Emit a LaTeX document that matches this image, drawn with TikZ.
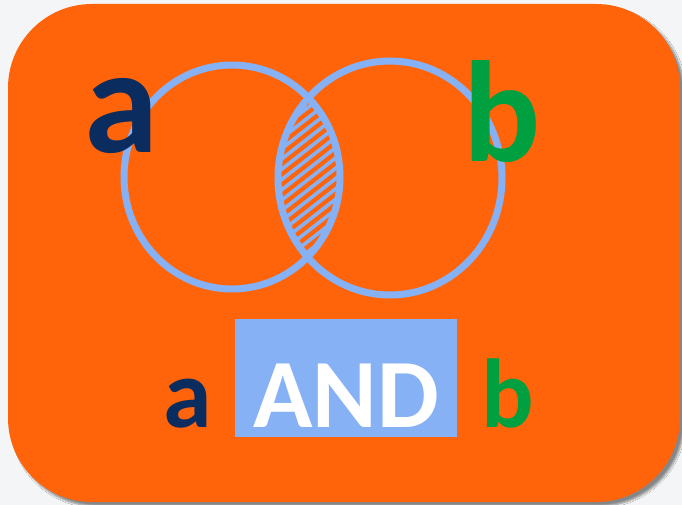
\documentclass[tikz,border=0pt]{standalone}
\usepackage{fontspec}
\setmainfont{Carlito}
\usetikzlibrary{shadows.blur}
\definecolor{bg}{HTML}{F3F5F7}
\definecolor{orng}{HTML}{FF640A}
\definecolor{lblue}{HTML}{86B2F5}
\definecolor{navy}{HTML}{0B2C5F}
\definecolor{grn}{HTML}{00A040}
\begin{document}
\begin{tikzpicture}[x=1pt,y=-1pt,
  ring/.style={draw=lblue, line width=7pt},
  hatchline/.style={lblue, line width=3.6pt},
  bigletter/.style={font=\fontsize{150}{150}\selectfont\bfseries, inner sep=0pt, anchor=base},
  smallletter/.style={font=\fontsize{98}{98}\selectfont\bfseries, inner sep=0pt, anchor=base}]
\fill[bg] (0,0) rectangle (682,505);
\useasboundingbox (0,0) rectangle (682,505);
\fill[orng, rounded corners=84pt,
  blur shadow={shadow xshift=4pt, shadow yshift=-4pt, shadow blur steps=6, shadow opacity=45}]
  (8,4) rectangle (680,502);
% hatched intersection
\begin{scope}
  \clip (232,177) ellipse [x radius=108pt, y radius=112pt];
  \clip (390,178) ellipse [x radius=112pt, y radius=117pt];
  \foreach \k in {-22,...,22}
    \draw[hatchline] (150,{178+10.3*\k+125}) -- (470,{178+10.3*\k-125});
\end{scope}
\draw[ring] (232,177) ellipse [x radius=108pt, y radius=112pt];
\draw[ring] (390,178) ellipse [x radius=112pt, y radius=117pt];
% labels
\node[bigletter, text=navy] (A) at (122,153) {a};
\node[bigletter, text=grn, font=\fontsize{144}{144}\selectfont\bfseries] (B) at (502,162) {b};
\node[fill=lblue, minimum width=222pt, minimum height=118pt, inner sep=0pt] (box) at (346,378) {};
\node[smallletter, text=white] (and) at (346,427) {AND};
\node[smallletter, text=navy] (a2) at (188,427) {a};
\node[smallletter, text=grn] (b2) at (508,427) {b};
\end{tikzpicture}
\end{document}
